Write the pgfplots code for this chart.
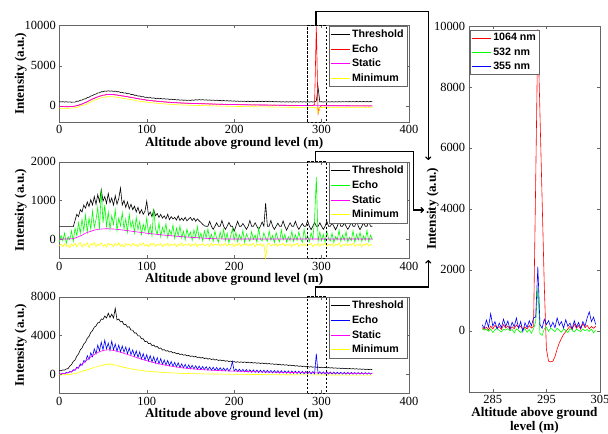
\documentclass[border=0pt]{standalone}
\usepackage{fontspec}
\setmainfont{Liberation Serif}
\newfontfamily\arial{Liberation Sans}
\usepackage{pgfplots}
\usepackage{pgfplotstable}
\pgfplotsset{compat=1.18}
\usetikzlibrary{arrows.meta}

\definecolor{mred}{RGB}{255,0,0}
\definecolor{mgreen}{RGB}{0,255,0}
\definecolor{mblue}{RGB}{0,0,255}
\definecolor{mmag}{RGB}{255,0,255}
\definecolor{myel}{RGB}{255,255,0}

% 1064 nm
\pgfplotstableread{
x thr echo stat mn
0 540 -60 -80 -290
2 490 -100 -85 -310
4 530 -70 -90 -295
6 480 -120 -95 -305
8 520 -80 -100 -290
10 470 -130 -100 -310
12 505 -70 -90 -285
14 450 -100 -75 -280
16 480 -40 -60 -245
18 470 -30 -20 -230
20 590 40 20 -195
22 580 70 90 -110
24 700 190 160 -10
26 720 220 240 60
28 850 350 330 95
30 880 440 420 160
32 1030 510 530 255
34 1080 660 640 380
36 1230 740 750 470
38 1280 870 850 600
40 1430 930 950 690
42 1470 1060 1040 790
44 1610 1110 1125 850
46 1630 1220 1200 950
48 1760 1250 1270 1000
50 1760 1350 1330 1090
52 1850 1340 1365 1100
54 1820 1420 1400 1150
56 1880 1400 1420 1140
58 1830 1440 1420 1160
60 1870 1410 1420 1145
62 1800 1420 1400 1135
64 1840 1360 1380 1105
66 1760 1370 1350 1085
68 1770 1300 1315 1035
70 1670 1300 1280 1005
72 1690 1230 1245 960
74 1590 1230 1210 935
76 1610 1160 1175 890
78 1510 1160 1140 865
80 1530 1080 1100 815
82 1420 1080 1060 785
84 1430 1000 1020 735
86 1320 1000 980 705
88 1330 920 940 655
90 1220 920 900 625
92 1240 845 865 585
94 1140 850 830 560
96 1160 770 790 520
98 1060 775 755 495
100 1080 700 720 455
102 1000 715 695 445
104 1040 650 670 415
106 960 665 645 400
108 1000 600 620 370
110 920 620 600 360
112 960 560 580 330
114 890 580 560 320
116 930 520 540 285
118 860 540 520 275
120 905 480 500 245
122 840 505 485 240
124 880 450 470 215
126 800 470 450 205
128 845 415 435 185
130 770 440 420 180
132 810 390 410 155
134 740 415 395 155
136 780 365 385 135
138 710 390 370 135
140 750 340 360 115
142 690 370 350 115
144 735 325 345 100
146 680 355 335 100
148 725 305 325 85
150 675 340 320 85
152 735 290 310 72
154 700 320 300 74
156 770 275 295 60
158 725 305 285 58
160 790 260 280 47
162 735 300 275 45
164 780 250 268 38
166 720 290 262 36
168 760 240 255 28
170 705 275 250 25
172 745 225 243 18
174 690 260 237 14
176 730 210 230 5
178 680 245 225 2
180 720 200 220 -8
182 650 230 215 -12
184 690 190 210 -18
186 630 225 205 -22
188 670 180 200 -28
190 620 210 195 -32
192 655 170 190 -38
194 600 200 185 -42
196 640 160 180 -48
198 590 190 175 -52
200 625 150 170 -60
202 570 180 165 -62
204 610 140 161 -68
206 560 170 157 -70
208 600 130 153 -76
210 555 160 150 -80
212 595 125 146 -83
214 545 155 142 -88
216 590 115 138 -92
218 540 150 134 -95
220 585 110 130 -100
222 535 140 127 -102
224 585 105 125 -108
226 530 135 122 -110
228 590 100 120 -115
230 535 130 117 -116
232 585 95 115 -120
234 530 125 112 -122
236 595 90 110 -126
238 535 120 107 -128
240 590 85 105 -130
242 510 115 102 -134
244 555 80 99 -136
246 500 110 96 -142
248 545 75 93 -144
250 500 105 90 -150
252 535 70 88 -150
254 480 100 85 -154
256 530 65 82 -155
258 475 95 78 -160
260 520 60 75 -158
262 480 90 72 -165
264 525 55 70 -163
266 475 85 68 -168
268 525 50 65 -166
270 480 80 62 -172
272 520 45 60 -170
274 475 75 57 -176
276 525 40 55 -174
278 480 70 52 -180
280 520 35 50 -178
282 475 65 48 -184
284 525 30 46 -182
286 480 60 44 -188
288 520 25 42 -186
290 485 55 40 -192
292 530 180 36 -190
294 600 9900 34 -200
296 2300 -1000 32 -900
298 490 -200 30 -210
300 525 55 30 -198
302 475 25 27 -205
304 520 55 25 -200
306 480 20 24 -206
308 525 50 23 -202
310 485 15 22 -208
312 530 45 21 -203
314 485 10 20 -209
316 530 40 20 -204
318 490 5 20 -210
320 535 35 20 -205
322 490 0 19 -211
324 540 35 18 -206
326 495 0 17 -212
328 540 30 16 -207
330 500 -5 15 -213
332 545 30 14 -208
334 500 -5 13 -214
336 545 25 12 -209
338 500 -10 11 -215
340 550 25 10 -210
342 505 -10 9 -216
344 550 20 8 -212
346 505 -10 7 -218
348 550 20 6 -213
350 505 -15 5 -219
352 550 15 4 -214
354 505 -15 3 -220
356 550 15 2 -216
358 510 -10 0 -222
}\pone

% 532 nm
\pgfplotstableread{
x thr echo stat mn
0 320 -80 0 -170
2 320 90 0 -140
4 320 -40 0 -200
6 320 150 0 -120
8 320 -110 0 -190
10 320 60 0 -150
12 320 -20 2 -230
14 320 210 5 -130
16 320 -60 10 -180
18 480 280 25 -110
20 640 90 40 -200
22 580 420 60 -140
24 760 150 80 -90
26 700 510 100 -210
28 880 220 125 -130
30 800 620 150 -170
32 960 180 170 -100
34 840 540 185 -220
36 1020 260 200 -120
38 880 720 215 -160
40 1100 300 230 -90
42 900 500 240 -200
44 1150 820 248 -130
46 960 250 255 -170
48 1280 1280 258 -100
50 980 420 262 -190
52 1100 880 264 -140
54 920 330 265 -210
56 1180 700 265 -110
58 940 250 263 -160
60 1060 600 260 -130
62 880 380 258 -200
64 1120 760 255 -120
66 900 220 250 -170
68 1050 540 245 -100
70 1320 340 240 -190
72 880 680 234 -140
74 1000 260 228 -210
76 820 520 222 -120
78 960 180 216 -160
80 780 640 210 -130
82 900 300 204 -190
84 760 470 198 -110
86 850 160 192 -170
88 700 560 186 -140
90 820 240 180 -200
92 660 450 174 -120
94 760 120 168 -160
96 640 380 162 -100
98 720 200 156 -180
100 980 540 150 -140
102 620 140 145 -200
104 700 350 140 -120
106 580 90 135 -170
108 760 780 130 -110
110 600 260 125 -190
112 660 120 120 -140
114 560 420 115 -160
116 640 60 110 -120
118 540 300 105 -200
120 600 150 100 -130
122 520 400 96 -170
124 640 40 92 -110
126 500 240 88 -190
128 580 110 84 -140
130 520 360 80 -160
132 560 20 76 -120
134 490 280 72 -200
136 600 80 68 -130
138 480 340 64 -170
140 540 30 60 -100
142 480 200 57 -180
144 560 -20 54 -140
146 470 260 51 -160
148 520 60 48 -120
150 560 180 45 -190
152 480 -30 42 -130
154 540 240 39 -170
156 460 50 36 -110
158 520 320 33 -200
160 470 0 30 -140
162 430 150 27 -160
164 380 -40 24 -120
166 340 210 21 -180
168 330 30 18 -150
170 330 260 15 -130
172 460 -20 12 -200
174 330 120 10 -110
176 250 -60 8 -170
178 330 200 6 -140
180 420 20 5 -160
182 330 -80 4 -120
184 330 180 3 -190
186 480 0 2 -130
188 330 240 1 -170
190 250 -40 0 -110
192 330 150 0 -180
194 430 -100 0 -140
196 330 80 0 -160
198 330 260 0 -120
200 200 -30 0 -200
202 330 170 0 -130
204 460 -70 0 -170
206 330 110 0 -110
208 330 -20 0 -190
210 400 220 0 -140
212 330 -90 0 -160
214 250 130 0 -120
216 330 30 0 -180
218 480 -60 0 -130
220 330 190 0 -170
222 330 -10 0 -110
224 420 100 0 -200
226 330 -80 0 -140
228 250 280 0 -160
230 330 0 0 -120
232 440 -50 0 -190
234 330 160 0 -130
236 930 20 0 -500
238 330 -60 0 -150
240 330 210 0 -110
242 480 -30 0 -180
244 330 90 0 -140
246 250 -90 0 -170
248 330 170 0 -120
250 410 10 0 -190
252 330 -70 0 -130
254 330 230 0 -160
256 470 -20 0 -110
258 330 120 0 -180
260 230 -80 0 -140
262 330 60 0 -170
264 420 -40 0 -120
266 330 200 0 -200
268 330 -60 0 -130
270 460 110 0 -160
272 330 -30 0 -110
274 250 180 0 -190
276 330 0 0 -140
278 400 -90 0 -170
280 330 250 0 -120
282 330 -20 0 -180
284 480 90 0 -130
286 330 -70 0 -160
288 240 160 0 -110
290 330 -10 0 -200
292 430 520 0 -140
294 330 1600 0 -170
296 330 -60 0 -120
298 420 180 0 -190
300 330 -40 0 -130
302 250 120 0 -160
304 330 -80 0 -110
306 460 200 0 -180
308 330 10 0 -140
310 330 -50 0 -170
312 410 150 0 -120
314 330 -90 0 -190
316 240 60 0 -130
318 330 -20 0 -160
320 470 230 0 -110
322 330 -60 0 -200
324 330 100 0 -140
326 420 -30 0 -170
328 330 190 0 -120
330 250 -70 0 -180
332 330 40 0 -130
334 440 -40 0 -160
336 330 210 0 -110
338 330 -80 0 -190
340 480 120 0 -140
342 330 -20 0 -170
344 240 170 0 -120
346 330 -60 0 -200
348 420 80 0 -130
350 330 -30 0 -160
352 330 220 0 -110
354 460 -70 0 -180
356 330 100 0 -140
358 330 -20 0 -170
}\ptwo

% 355 nm
\pgfplotstableread{
x thr echo stat mn
0 380 30 0 -80
2 330 -40 20 -120
4 420 90 40 -60
6 400 20 60 -110
8 520 160 90 -40
10 560 110 130 -90
12 820 260 190 -20
14 980 200 260 -30
16 1300 450 350 40
18 1450 380 450 20
20 1850 700 570 110
22 2080 600 700 130
24 2500 1050 850 220
26 2700 900 1000 250
28 3100 1400 1160 360
30 3300 1250 1320 360
32 3700 1900 1480 480
34 3900 1500 1630 470
36 4300 2200 1770 600
38 4500 1800 1900 600
40 4850 2600 2020 720
42 4980 2100 2130 720
44 5300 3000 2230 820
46 5350 2400 2310 800
48 5700 3300 2380 920
50 5650 2500 2430 880
52 6000 3500 2470 1000
54 5800 2600 2490 930
56 6300 3200 2500 1080
58 5850 2450 2490 950
60 6200 3400 2470 1060
62 5800 2500 2440 900
64 6800 3100 2400 960
66 5600 2350 2360 820
68 5700 3000 2310 860
70 5400 2300 2260 740
72 5450 2900 2200 760
74 5100 2250 2140 660
76 5150 2800 2080 680
78 4850 2100 2020 580
80 4900 2700 1960 600
82 4550 2000 1900 510
84 4550 2500 1840 520
86 4250 1850 1780 440
88 4250 2400 1720 460
90 3950 1700 1660 390
92 3950 2300 1600 410
94 3650 1550 1545 340
96 3650 2100 1490 360
98 3350 1450 1435 290
100 3400 2000 1380 320
102 3150 1350 1330 260
104 3200 1900 1280 280
106 2950 1250 1230 230
108 3000 1800 1185 250
110 2800 1150 1140 200
112 2850 1700 1095 230
114 2650 1050 1055 180
116 2700 1600 1015 200
118 2480 980 975 150
120 2530 1450 940 170
122 2370 920 905 130
124 2420 1400 870 150
126 2280 860 840 110
128 2330 1300 810 130
130 2180 800 780 90
132 2230 1200 750 110
134 2100 740 725 80
136 2150 1150 700 95
138 2020 680 675 60
140 2070 1050 650 80
142 1950 640 630 50
144 2000 1000 610 65
146 1880 590 590 40
148 1930 950 570 55
150 1820 560 550 30
152 1870 900 535 45
154 1770 530 520 20
156 1820 850 505 35
158 1710 500 490 15
160 1750 820 475 30
162 1650 470 462 10
164 1710 780 450 25
166 1600 450 438 5
168 1660 760 426 20
170 1540 420 415 0
172 1600 720 404 15
174 1500 400 394 -5
176 1560 700 384 10
178 1450 380 375 -10
180 1500 680 366 5
182 1400 360 358 -15
184 1460 650 350 0
186 1360 340 342 -20
188 1420 620 335 -5
190 1320 330 328 -25
192 1380 600 321 -10
194 1290 310 314 -30
196 1340 580 307 -15
198 1250 1300 302 -30
200 1290 300 300 -20
202 1210 520 294 -35
204 1270 260 289 -20
206 1200 500 283 -40
208 1260 240 278 -25
210 1190 480 272 -45
212 1250 220 267 -30
214 1180 460 261 -50
216 1230 200 256 -35
218 1150 440 250 -55
220 1200 180 245 -40
222 1130 430 240 -58
224 1180 170 236 -45
226 1110 410 231 -62
228 1160 160 227 -50
230 1090 400 222 -65
232 1140 150 218 -52
234 1070 390 213 -68
236 1120 140 209 -55
238 1040 380 204 -70
240 1090 130 200 -58
242 1020 370 196 -72
244 1060 120 193 -60
246 990 360 189 -75
248 1040 110 186 -62
250 960 350 182 -78
252 1010 100 179 -65
254 930 340 175 -80
256 980 90 172 -68
258 910 330 168 -83
260 960 80 165 -70
262 880 320 162 -85
264 930 70 159 -72
266 850 310 156 -88
268 900 60 153 -75
270 820 300 150 -90
272 870 50 147 -78
274 790 290 144 -92
276 840 40 141 -80
278 770 280 138 -95
280 820 30 135 -82
282 740 270 133 -96
284 790 25 130 -85
286 720 260 128 -98
288 760 20 125 -88
290 700 250 123 -100
292 740 15 120 -90
294 690 2100 118 -102
296 720 10 115 -92
298 670 240 113 -104
300 700 5 110 -94
302 650 230 108 -105
304 690 0 106 -96
306 630 220 104 -107
308 670 -5 102 -98
310 620 210 100 -108
312 655 -10 98 -100
314 600 200 96 -110
316 640 -10 94 -102
318 585 190 92 -112
320 620 -15 90 -104
322 570 180 88 -113
324 605 -15 87 -106
326 555 170 85 -115
328 590 -20 84 -108
330 540 165 82 -116
332 575 -20 81 -110
334 525 160 79 -117
336 560 -20 78 -112
338 510 155 76 -118
340 545 -25 75 -114
342 495 150 74 -119
344 530 -25 72 -116
346 480 145 71 -120
348 515 -25 70 -118
350 470 140 68 -121
352 500 -25 67 -119
354 460 135 66 -122
356 490 -20 64 -120
358 450 120 62 -123
}\pthree

% echo of the three wavelengths round the target
\pgfplotstableread{
x red green blue
283.0 100 60 200
283.4 50 20 80
283.8 120 50 350
284.2 20 -20 120
284.6 150 60 560
285.0 60 -60 150
285.4 180 30 300
285.8 80 80 60
286.2 140 10 250
286.6 40 -40 100
287.0 200 50 380
287.4 90 20 140
287.8 160 70 320
288.2 40 0 50
288.6 130 40 280
289.0 70 -70 130
289.4 190 60 420
289.8 100 10 80
290.2 150 -60 300
290.6 40 30 -30
291.0 120 70 260
291.4 60 -50 110
291.8 170 40 330
292.2 90 -80 160
292.6 140 60 420
293.0 4900 300 450
293.4 9900 1400 2100
293.8 7100 -100 200
294.2 4300 -150 80
294.6 1500 60 380
295.0 -600 120 200
295.4 -1000 -20 330
295.8 -1020 90 120
296.2 -1000 30 280
296.6 -850 -30 100
297.0 -600 80 420
297.4 -400 20 180
297.8 -250 -50 300
298.2 -120 60 90
298.6 -30 10 360
299.0 60 -60 150
299.4 150 70 250
299.8 40 20 60
300.2 220 -40 330
300.6 80 50 120
301.0 170 10 270
301.4 50 -30 80
301.8 240 60 300
302.2 100 0 150
302.6 180 40 420
303.0 60 -20 620
303.4 140 50 300
303.8 80 -70 450
304.2 150 20 200
}\pzoom

\tikzset{
  dbox/.style={line width=0.8bp, dash pattern=on 2.5bp off 1.5bp},
  link/.style={line width=1.2bp, -{To[length=3.5bp,width=6bp]}},
}

\pgfplotsset{
  matlab/.style={
    scale only axis, clip=false,
    axis line style={black!60},
    tick style={black!60},
    tick align=inside, major tick length=3bp,
    tick label style={font=\fontsize{12.5}{13}\selectfont},
    label style={font=\fontsize{13.2}{14.5}\selectfont\bfseries},
    scaled ticks=false,
    /pgf/number format/1000 sep={},
    /pgf/number format/assume math mode=true,
    ylabel={Intensity (a.u.)},
    ylabel style={anchor=center},
    legend cell align=left,
    legend style={font=\arial\bfseries\fontsize{10.7}{12.6}\selectfont,
      draw=black!60, inner xsep=1.5bp, inner ysep=1.5bp, row sep=1.5bp},
    legend image code/.code={\draw[#1] (0bp,0bp) -- (19bp,0bp);},
    every axis plot/.append style={line width=0.6bp},
  },
  panel/.style={
    matlab, width=349.7bp, height=96.5bp,
    xmin=0, xmax=400, xtick={0,100,200,300,400},
    xlabel={Altitude above ground level (m)},
    xlabel style={yshift=3.5bp},
    ylabel style={at={(axis description cs:-0.11,0.5)}},
    legend style={at={(0.995,0.995)}, anchor=north east},
  },
}

\begin{document}
\begin{tikzpicture}
\useasboundingbox (0,0) rectangle (608bp,434bp);

\begin{axis}[panel, at={(59.3bp,312bp)}, anchor=south west,
  ymin=-2000, ymax=10000, ytick={0,5000,10000}]
\addplot[black] table[x=x, y=thr] {\pone};
\addplot[mred] table[x=x, y=echo] {\pone};
\addplot[mmag] table[x=x, y=stat] {\pone};
\addplot[myel] table[x=x, y=mn] {\pone};
\legend{Threshold,Echo,Static,Minimum}
\draw[dbox] (axis cs:284,-2000) rectangle (axis cs:305,10000);
\end{axis}

\begin{axis}[panel, at={(59.3bp,175.7bp)}, anchor=south west,
  ymin=-500, ymax=2000, ytick={0,1000,2000}]
\addplot[black] table[x=x, y=thr] {\ptwo};
\addplot[mgreen] table[x=x, y=echo] {\ptwo};
\addplot[mmag] table[x=x, y=stat] {\ptwo};
\addplot[myel] table[x=x, y=mn] {\ptwo};
\legend{Threshold,Echo,Static,Minimum}
\draw[dbox] (axis cs:284,-500) rectangle (axis cs:305,2000);
\end{axis}

\begin{axis}[panel, at={(59.3bp,40.7bp)}, anchor=south west,
  ymin=-2000, ymax=8000, ytick={0,4000,8000}]
\addplot[black] table[x=x, y=thr] {\pthree};
\addplot[mblue] table[x=x, y=echo] {\pthree};
\addplot[mmag] table[x=x, y=stat] {\pthree};
\addplot[myel] table[x=x, y=mn] {\pthree};
\legend{Threshold,Echo,Static,Minimum}
\draw[dbox] (axis cs:284,-2000) rectangle (axis cs:305,8000);
\end{axis}

\begin{axis}[matlab, at={(468.7bp,42.3bp)}, anchor=south west,
  width=131.3bp, height=365.7bp,
  xmin=280.5, xmax=305, xtick={285,295,305},
  ymin=-2000, ymax=10000, ytick={0,2000,4000,6000,8000,10000},
  xlabel={Altitude above ground\\level (m)},
  xlabel style={align=center, yshift=3.5bp},
  ylabel style={at={(axis description cs:-0.274,0.5)}},
  legend style={at={(0.01,0.99)}, anchor=north west}]
\addplot[mred] table[x=x, y=red] {\pzoom};
\addplot[mgreen] table[x=x, y=green] {\pzoom};
\addplot[mblue] table[x=x, y=blue] {\pzoom};
\legend{1064 nm,532 nm,355 nm}
\end{axis}

\draw[link] (316bp,408.3bp) -- (316bp,422.3bp) -- (428.3bp,422.3bp) -- (428.3bp,274bp);
\draw[link] (315.7bp,272.3bp) -- (315.7bp,282.7bp) -- (413.3bp,282.7bp) -- (413.3bp,224bp) -- (424bp,224bp);
\draw[link] (315.7bp,137.3bp) -- (315.7bp,147bp) -- (428.3bp,147bp) -- (428.3bp,174bp);
\end{tikzpicture}
\end{document}
